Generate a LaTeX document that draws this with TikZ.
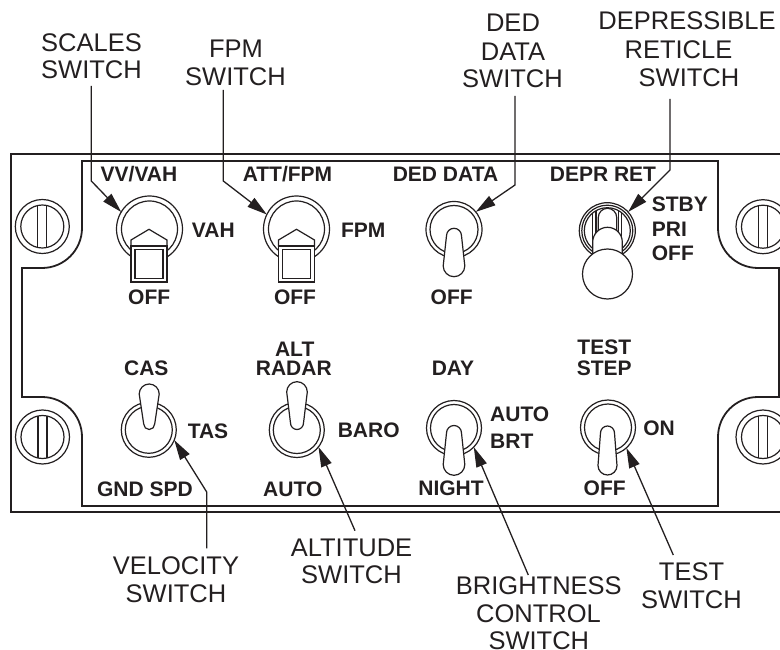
\documentclass[tikz,border=0pt]{standalone}
\usepackage{fontspec}
\setmainfont{Liberation Sans}
\usetikzlibrary{arrows.meta}
\definecolor{ink}{RGB}{35,31,32}
\begin{document}
\begin{tikzpicture}[x=1pt,y=-1pt,
  lbl/.style={font=\fontsize{25.5}{25.5}\selectfont, anchor=base, inner sep=0pt, text=ink},
  blbl/.style={font=\bfseries\fontsize{21}{21}\selectfont, anchor=base, inner sep=0pt, text=ink},
  blblw/.style={blbl, anchor=base west},
  panel/.style={draw=ink, line width=1.8pt},
  part/.style={draw=ink, line width=1.2pt, fill=white},
  thin/.style={draw=ink, line width=1.2pt},
  ring/.style={circle, draw=ink, line width=1.2pt, fill=white, inner sep=0pt, outer sep=0pt},
  leader/.style={draw=ink, line width=1.3pt, -{Triangle[length=20pt,width=11pt]}},
  screw/.pic={
    \draw[thin] (0,0) circle[radius=27];
    \draw[thin] (0,0) circle[radius=21.5];
    \draw[thin] (-4.5,-21) -- (-4.5,21) (4.5,-21) -- (4.5,21);
  },
  paddle/.pic={
    \draw[part] (-18,17) -- (-18,11) -- (0,0.3) -- (18,11) -- (18,17) -- cycle;
    \draw[part] (-18,17) rectangle (18,53);
    \draw[part] (-14,20.5) rectangle (14,49.5);
  }
]
\useasboundingbox (0,0) rectangle (780,650);

% panel outlines
\draw[panel] (11,154) rectangle (795,512);
\draw[panel] (82,161) -- (718,161) -- (718,228) arc[start angle=180,end angle=90,radius=40]
  -- (779,268) -- (779,397) -- (758,397) arc[start angle=270,end angle=180,radius=40]
  -- (718,506) -- (82,506) -- (82,437) arc[start angle=0,end angle=-90,radius=40]
  -- (22,397) -- (22,268) -- (42,268) arc[start angle=90,end angle=0,radius=40] -- cycle;

% screws
\pic at (42.3,226.5) {screw};
\pic at (42.5,437) {screw};
\pic at (763,226.7) {screw};
\pic at (763,437) {screw};

% ---- top row switches ----
% VV/VAH
\node[ring, minimum size=66pt] (sw1) at (149.5,229) {};
\draw[thin] (149.5,229) circle[radius=28];
\pic at (149,229) {paddle};
% ATT/FPM
\node[ring, minimum size=66pt] (sw2) at (296.5,229) {};
\draw[thin] (296.5,229) circle[radius=28];
\pic at (296.5,229) {paddle};
% DED DATA
\node[ring, minimum size=56pt] (sw3) at (454,229.5) {};
\draw[thin] (454,229.5) circle[radius=24];
\draw[part] (446.5,235.8) arc[start angle=180,end angle=360,radius=7.5] -- (464.8,265.9)
  arc[start angle=0,end angle=180,radius=10.8] -- cycle;
% DEPR RET
\node[ring, minimum size=56pt] (sw4) at (607.3,230.7) {};
\draw[thin] (607.3,230.7) circle[radius=25.5];
\draw[thin] (607.3,230.7) circle[radius=23];
\draw[thin] (592.7,212.9) -- (592.7,250) (596,210.7) -- (596,250)
  (618.3,210.7) -- (618.3,250) (621.7,212.9) -- (621.7,250);
\draw[thin] (598.3,245) -- (598.3,217.5) arc[start angle=180,end angle=360,radius=9.2] -- (616.7,245);
\draw[part] (592.7,265) -- (592.7,242.1) arc[start angle=180,end angle=360,radius=14.8] -- (622.3,265) -- cycle;
\draw[part] (607.5,274) circle[radius=25];

% ---- bottom row switches ----
% CAS/TAS
\node[ring, minimum size=55pt] (sw5) at (148.8,429.8) {};
\draw[thin] (148.8,429.8) circle[radius=23.5];
\draw[part] (139.2,394) arc[start angle=180,end angle=360,radius=10] -- (154.7,424)
  arc[start angle=0,end angle=180,radius=5.5] -- cycle;
% ALT
\node[ring, minimum size=55pt] (sw6) at (296.8,430) {};
\draw[thin] (296.8,430) circle[radius=23.5];
\draw[part] (286.7,392) arc[start angle=180,end angle=360,radius=10.3] -- (303.5,423)
  arc[start angle=0,end angle=180,radius=6.5] -- cycle;
% DAY/NIGHT
\node[ring, minimum size=55pt] (sw7) at (454,428) {};
\draw[thin] (454,428) circle[radius=23.5];
\draw[part] (446.5,433) arc[start angle=180,end angle=360,radius=7.5] -- (464.8,464.5)
  arc[start angle=0,end angle=180,radius=10.8] -- cycle;
% TEST
\node[ring, minimum size=55pt] (sw8) at (608,427.5) {};
\draw[thin] (608,427.5) circle[radius=23.5];
\draw[part] (600.5,433) arc[start angle=180,end angle=360,radius=7] -- (617,465.5)
  arc[start angle=0,end angle=180,radius=9.5] -- cycle;

% ---- panel labels (bold) ----
\node[blbl] (pVV) at (139,181.7) {VV/VAH};
\node[blbl] (pVAH) at (213.3,237.3) {VAH};
\node[blbl] (pOFF1) at (149.2,305) {OFF};
\node[blbl] (pATT) at (287.5,181.7) {ATT/FPM};
\node[blbl] (pFPM) at (363.3,237.3) {FPM};
\node[blbl] (pOFF2) at (295,305) {OFF};
\node[blbl] (pDED) at (445.5,181.7) {DED DATA};
\node[blbl] (pOFF3) at (451.7,305) {OFF};
\node[blbl] (pDEPR) at (603,181.7) {DEPR RET};
\node[blblw] (pSTBY) at (651.7,211.7) {STBY};
\node[blblw] (pPRI) at (651.7,236.7) {PRI};
\node[blblw] (pOFF4) at (651.7,260.7) {OFF};

\node[blbl] (pCAS) at (146.3,375) {CAS};
\node[blbl] (pTAS) at (208,438.3) {TAS};
\node[blbl] (pGND) at (145,496) {GND SPD};
\node[blbl] (pALT) at (294.7,356) {ALT};
\node[blbl] (pRADAR) at (293.8,375) {RADAR};
\node[blbl] (pBARO) at (368.7,437.3) {BARO};
\node[blbl] (pAUTO) at (292.8,496) {AUTO};
\node[blbl] (pDAY) at (453,375) {DAY};
\node[blblw] (pAUTO2) at (490,421.7) {AUTO};
\node[blblw] (pBRT) at (490,448.3) {BRT};
\node[blbl] (pNIGHT) at (451,495) {NIGHT};
\node[blbl] (pTEST) at (604.3,354) {TEST};
\node[blbl] (pSTEP) at (604.3,375) {STEP};
\node[blbl] (pON) at (659,435) {ON};
\node[blbl] (pOFF5) at (604.7,495) {OFF};

% ---- callout labels ----
\node[lbl] (scA) at (91.5,51.7) {SCALES};
\node[lbl] (scB) at (91.5,79) {SWITCH};
\node[lbl] (fpA) at (236,57.3) {FPM};
\node[lbl] (fpB) at (235.5,86) {SWITCH};
\node[lbl] (ddA) at (513,31.5) {DED};
\node[lbl] (ddB) at (513,60.5) {DATA};
\node[lbl] (ddC) at (512.5,88) {SWITCH};
\node[lbl] (drA) at (687,30) {DEPRESSIBLE};
\node[lbl] (drB) at (678.5,58.3) {RETICLE};
\node[lbl] (drC) at (689,86.7) {SWITCH};

\node[lbl] (veA) at (176,574.3) {VELOCITY};
\node[lbl] (veB) at (176,602.7) {SWITCH};
\node[lbl] (alA) at (351.5,556) {ALTITUDE};
\node[lbl] (alB) at (351.5,583.3) {SWITCH};
\node[lbl] (brA) at (538.8,594.5) {BRIGHTNESS};
\node[lbl] (brB) at (538.5,622) {CONTROL};
\node[lbl] (brC) at (538.8,649) {SWITCH};
\node[lbl] (tsA) at (691.5,580) {TEST};
\node[lbl] (tsB) at (691.5,608.3) {SWITCH};

% ---- leaders ----
\coordinate (l1a) at (91.3,86);   \coordinate (l1b) at (91.3,181);
\coordinate (l2a) at (223.3,90);  \coordinate (l2b) at (223.3,181);
\coordinate (l3a) at (515,96);    \coordinate (l3b) at (515,185);
\coordinate (l4a) at (670,99);    \coordinate (l4b) at (670,170);
\coordinate (l5a) at (206.7,548.3); \coordinate (l5b) at (206.7,492);
\coordinate (l6a) at (355,530.7);
\coordinate (l7a) at (528.3,575);
\coordinate (l8a) at (673.3,555);

\draw[leader] (l1a) -- (l1b) -- (sw1.149);
\draw[leader] (l2a) -- (l2b) -- (sw2.154);
\draw[leader] (l3a) -- (l3b) -- (sw3.39);
\draw[leader] (l4a) -- (l4b) -- (sw4.42);
\draw[leader] (l5a) -- (l5b) -- (sw5.-22);
\draw[leader] (l6a) -- (sw6.-38);
\draw[leader] (l7a) -- (sw7.-44);
\draw[leader] (l8a) -- (sw8.-48);
\end{tikzpicture}
\end{document}
